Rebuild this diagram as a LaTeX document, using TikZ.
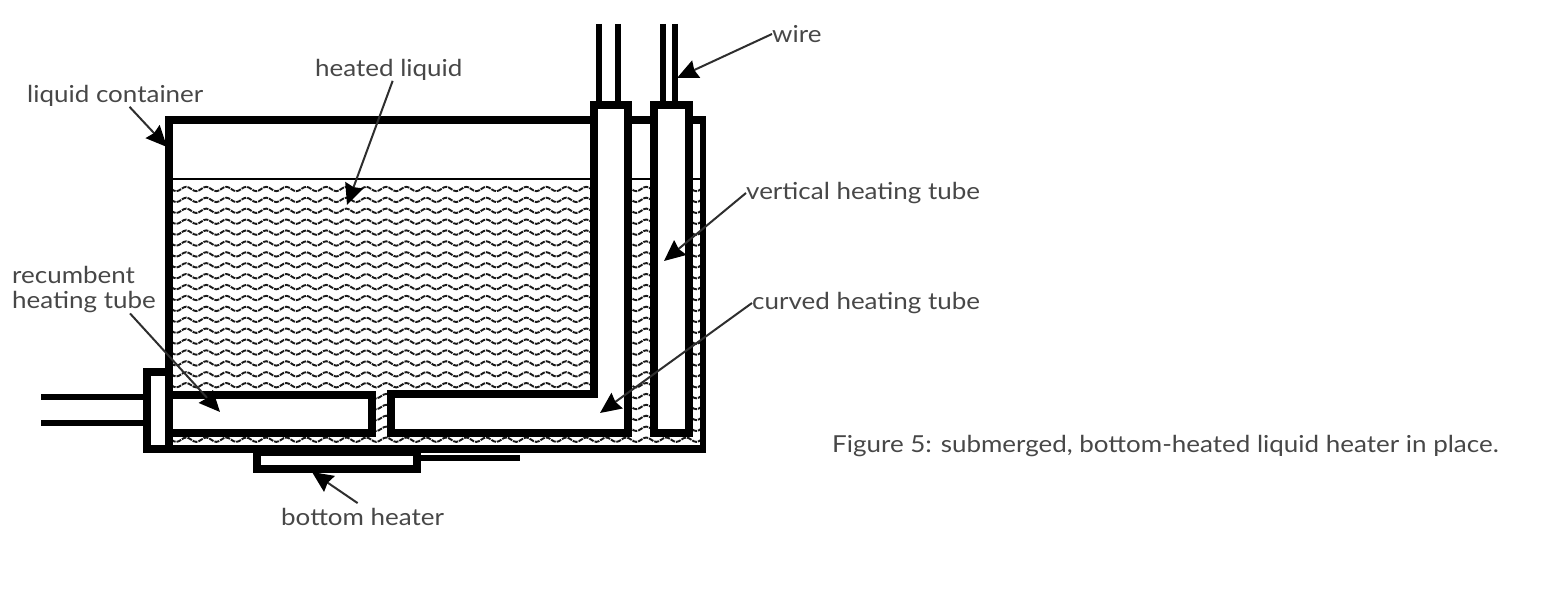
\documentclass[tikz,border=0pt]{standalone}
\usepackage{fontspec}
\setmainfont{Lato}[FakeStretch=1.11]
\usetikzlibrary{arrows.meta,decorations.pathmorphing}

\begin{document}
\begin{tikzpicture}[x=1pt,y=-1pt]

   \tikzstyle{every node}+=[inner sep=0pt, text=black!72, font=\fontsize{23.4}{25}\selectfont]
   \tikzstyle{wall}=[draw=black, line width=7.5pt, line join=miter]
   \tikzstyle{tube}=[wall, fill=white]
   \tikzstyle{cable}=[black, line width=6.5pt]
   \tikzstyle{lead}=[black!82, line width=2pt, -{Stealth[length=21pt,width=19pt,inset=2pt,black]}]
   \tikzstyle{ripple}=[black!90, line width=1.9pt, dash pattern=on 5pt off 1pt, decorate, decoration={snake,segment length=20pt,amplitude=2.2pt}]

   \useasboundingbox (0,0) rectangle (1546,591);

   % liquid
   \begin{scope}
      \clip (170,180) rectangle (703,449);
      \foreach \row in {0,...,24}
         \draw [ripple] (160,189+10.9*\row) -- (720,189+10.9*\row);
   \end{scope}
   \draw [black, line width=1.4pt] (170,179) -- (703,179);

   % container
   \draw [wall, line width=6pt] (703,120) -- (703,449);
   \draw [wall] (706,449) -- (147,449);
   \draw [wall] (169,449) -- (169,120) -- (592,120);
   \draw [wall] (628,120) -- (706,120);

   % wires
   \foreach \wx in {599,618,663,675}
      \draw [cable] (\wx,24) -- (\wx,105);
   \draw [cable] (41,397) -- (147,397);
   \draw [cable] (41,423) -- (147,423);
   \draw [cable] (417,458) -- (520,458);

   % tubes
   \draw [tube] (147,372) rectangle (169,449);
   \draw [tube] (169,395) rectangle (372,433);
   \draw [tube] (391,394) -- (594,394) -- (594,105) -- (628,105) -- (628,433) -- (391,433) -- cycle;
   \draw [tube] (654,105) rectangle (689,433);
   \draw [tube] (257,452) rectangle (417,469);

   % arrow ends
   \coordinate (containerend) at (167,147);
   \coordinate (liquidend) at (347,205);
   \coordinate (wireend) at (677,78);
   \coordinate (verticalend) at (664,261);
   \coordinate (curvedend) at (600,413);
   \coordinate (recumbentend) at (220,412);
   \coordinate (heaterend) at (312,472);

   % labels
   \node (container) [anchor=west] at (27,96) {liquid container};
   \node (liquid) [anchor=west] at (315,70) {heated liquid};
   \node (wirelabel) [anchor=west] at (772,34) {wire};
   \node (vertical) [anchor=west] at (746,193) {vertical heating tube};
   \node (curved) [anchor=west] at (752,303) {curved heating tube};
   \node (recumbent) [anchor=west, align=left] at (12,290) {recumbent\\heating tube};
   \node (heater) [anchor=west] at (281,517) {bottom heater};
   \node (caption) [anchor=west] at (832,446) {Figure 5: submerged, bottom-heated liquid heater in place.};

   \draw [lead] (container.south east) ++(-74,0) -- (containerend);
   \draw [lead] (liquid.south east) ++(-70,0) -- (liquidend);
   \draw [lead] (wirelabel.west) -- (wireend);
   \draw [lead] (vertical.west) -- (verticalend);
   \draw [lead] (curved.west) -- (curvedend);
   \draw [lead] (recumbent.south) ++(46,0) -- (recumbentend);
   \draw [lead] (heater.north) ++(-5,-5) -- (heaterend);

\end{tikzpicture}
\end{document}
